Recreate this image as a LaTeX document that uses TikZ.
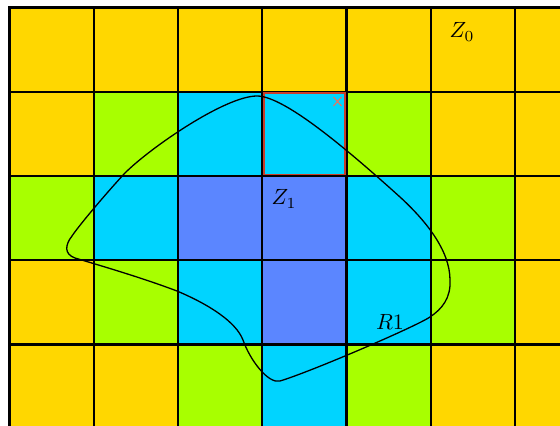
\documentclass[tikz,border=0pt]{standalone}
\begin{document}
\begin{tikzpicture}[x=1pt,y=-1pt,
  gridline/.style={black,line width=2.2pt,line cap=rect},
  regioncurve/.style={black,line width=1.3pt},
  lbl/.style={inner sep=0pt}]
\definecolor{cgold}{RGB}{255,215,0}
\definecolor{clime}{RGB}{168,255,0}
\definecolor{ccyan}{RGB}{0,212,255}
\definecolor{cblue}{RGB}{91,134,255}
\definecolor{cred}{RGB}{200,60,40}
\definecolor{csalmon}{RGB}{240,110,90}
\useasboundingbox (0,0) rectangle (560,426);
\fill[white] (0,0) rectangle (560,426);
\begin{scope}
\clip (0,0) rectangle (560,426);
\fill[cgold] (9.5,7.5) rectangle (620,440);
\foreach \c/\r in {1/1,4/1,0/2,5/2,1/3,5/3,2/4,4/4}
  \fill[clime] ({9.5+84.25*\c},{7.5+84.25*\r}) rectangle ++(84.25,84.25);
\foreach \c/\r in {2/1,3/1,1/2,4/2,2/3,4/3,3/4}
  \fill[ccyan] ({9.5+84.25*\c},{7.5+84.25*\r}) rectangle ++(84.25,84.25);
\foreach \c/\r in {2/2,3/2,3/3}
  \fill[cblue] ({9.5+84.25*\c},{7.5+84.25*\r}) rectangle ++(84.25,84.25);
\foreach \i in {0,...,7}
  \draw[gridline] ({9.5+84.25*\i},7.5) -- ({9.5+84.25*\i},440);
\foreach \j in {0,...,5}
  \draw[gridline] (9.5,{7.5+84.25*\j}) -- (620,{7.5+84.25*\j});
\end{scope}
\draw[cred,line width=1.7pt] (264,93.3) rectangle (345,174.5);
\draw[csalmon,line width=1pt] (333.5,97) -- (341.5,106) (341.5,97) -- (333.5,106);
\draw[regioncurve] (257,96)
  .. controls (285,96) and (350,152) .. (400,197)
  .. controls (425,220) and (450,250) .. (450,280)
  .. controls (451,298) and (442,309) .. (430,317)
  .. controls (415,327) and (310,372) .. (280,381)
  .. controls (268,384) and (250,360) .. (243,340)
  .. controls (236,322) and (210,305) .. (177,291)
  .. controls (140,277) and (95,264) .. (75,258)
  .. controls (64,254) and (65,245) .. (72,236)
  .. controls (80,224) and (110,189) .. (125,173)
  .. controls (150,148) and (225,96) .. (257,96) -- cycle;
\node[lbl] (z0) at (462,32) {\scalebox{2.2}{$Z_0$}};
\node[lbl] (z1) at (284,199) {\scalebox{2.2}{$Z_1$}};
\node[lbl] (r1) at (390,322) {\scalebox{2.2}{$R1$}};
\end{tikzpicture}
\end{document}
